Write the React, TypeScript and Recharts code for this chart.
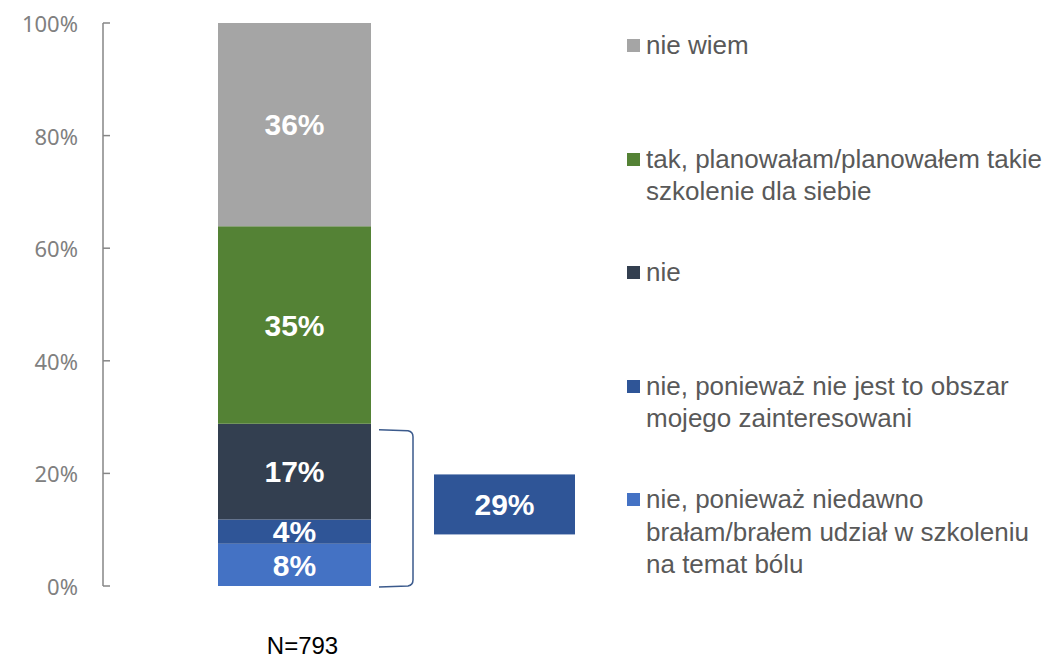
import React from 'react';
import { BarChart, Bar, XAxis, YAxis, Legend, LabelList, ReferenceArea } from 'recharts';

// single stacked column, bottom -> top
const categories = ['N=793'];
const seriesKeys = ['niedawno', 'nieObszar', 'nie', 'tak', 'nieWiem'];
const seriesNames = [
  'nie, ponieważ niedawno\nbrałam/brałem udział w szkoleniu\nna temat bólu',
  'nie, ponieważ nie jest to obszar\nmojego zainteresowani',
  'nie',
  'tak, planowałam/planowałem takie\nszkolenie dla siebie',
  'nie wiem',
];
const seriesValues = [7.5, 4.3, 17.0, 35.1, 36.1];
const seriesLabels = ['8%', '4%', '17%', '35%', '36%'];
const seriesColors = ['#4472C4', '#2F5597', '#333F50', '#548235', '#A5A5A5'];
const yTicks = [0, 20, 40, 60, 80, 100];
const bracketLabel = '29%';

const data = categories.map((name) => {
  const row: Record<string, string | number> = { name };
  seriesKeys.forEach((k, i) => {
    row[k] = seriesValues[i];
  });
  return row;
});

const bracketTop = seriesValues[0] + seriesValues[1] + seriesValues[2];
const BAR_SIZE = 153;

const YTick = ({ x, y, payload }: any) => (
  <g>
    <line x1={x} y1={y} x2={x + 7} y2={y} stroke="#868686" strokeWidth={1.5} />
    <text
      x={x - 25}
      y={y}
      textAnchor="end"
      dominantBaseline="central"
      fill="#808080"
      fontSize={22}
      fontFamily="'Noto Sans', sans-serif"
    >
      {payload.value}%
    </text>
  </g>
);

const BracketShape = ({ x, y, width, height }: any) => {
  const barRight = x + width / 2 + BAR_SIZE / 2;
  const bx0 = barRight + 8;
  const bx1 = barRight + 42;
  const top = y + 6;
  const bottom = y + height + 1;
  const midY = (top + bottom) / 2 - 4;
  const boxX = barRight + 63;
  const boxW = 141;
  const boxH = 60;
  return (
    <g>
      <path
        d={`M${bx0},${top} L${bx1 - 5},${top + 1} Q${bx1},${top + 2} ${bx1},${top + 7} L${bx1},${bottom - 7} Q${bx1},${bottom - 2} ${bx1 - 5},${bottom - 1} L${bx0},${bottom}`}
        fill="none"
        stroke="#3B5A8C"
        strokeWidth={1.5}
      />
      <rect x={boxX} y={midY - boxH / 2} width={boxW} height={boxH} fill="#2F5597" />
      <text
        x={boxX + boxW / 2}
        y={midY}
        textAnchor="middle"
        dominantBaseline="central"
        fill="#fff"
        fontSize={30}
        fontWeight="bold"
        fontFamily="'Liberation Sans', Arial, sans-serif"
      >
        {bracketLabel}
      </text>
    </g>
  );
};

const LegendContent = () => {
  const order = [...seriesNames.keys()].reverse();
  return (
    <div style={{ position: 'relative', fontFamily: "'Liberation Sans', Arial, sans-serif" }}>
      {order.map((i, n) => (
        <div
          key={seriesKeys[i]}
          style={{
            position: 'absolute',
            left: 0,
            top: 21 + n * 113.5,
            paddingLeft: 19,
            fontSize: 26,
            lineHeight: '32.5px',
            color: '#595959',
            whiteSpace: 'pre-line',
            width: 410,
          }}
        >
          <span
            style={{
              position: 'absolute',
              left: 0,
              top: 10,
              width: 13,
              height: 13,
              background: seriesColors[i],
            }}
          />
          {seriesNames[i]}
        </div>
      ))}
    </div>
  );
};

export default function App() {
  return (
    <div style={{ width: 1040, height: 652, position: 'relative' }}>
      <BarChart
        width={1040}
        height={652}
        data={data}
        margin={{ top: 15, right: 562, bottom: 44, left: 0 }}
      >
        <XAxis
          dataKey="name"
          height={30}
          axisLine={false}
          tickLine={false}
          tickSize={0}
          tickMargin={51}
          tick={{ fill: '#000', fontSize: 24, fontFamily: "'Liberation Sans', Arial, sans-serif", dx: 8 }}
        />
        <YAxis
          domain={[0, 100]}
          ticks={yTicks}
          width={95}
          axisLine={{ stroke: '#868686', strokeWidth: 1.5 }}
          tickLine={false}
          tickSize={0}
          tickMargin={0}
          tick={<YTick />}
          interval={0}
        />
        <Legend
          layout="vertical"
          align="center"
          verticalAlign="middle"
          wrapperStyle={{ left: 619, top: 0, width: 420, height: 600 }}
          content={<LegendContent />}
        />
        {seriesKeys.map((k, i) => (
          <Bar
            key={k}
            dataKey={k}
            name={seriesNames[i]}
            stackId="a"
            fill={seriesColors[i]}
            barSize={BAR_SIZE}
            isAnimationActive={false}
          >
            <LabelList
              dataKey={k}
              position="center"
              formatter={() => seriesLabels[i]}
              fill="#fff"
              fontSize={30}
              fontWeight="bold"
              fontFamily="'Liberation Sans', Arial, sans-serif"
            />
          </Bar>
        ))}
        <ReferenceArea
          y1={0}
          y2={bracketTop}
          ifOverflow="visible"
          shape={<BracketShape />}
        />
      </BarChart>
    </div>
  );
}
